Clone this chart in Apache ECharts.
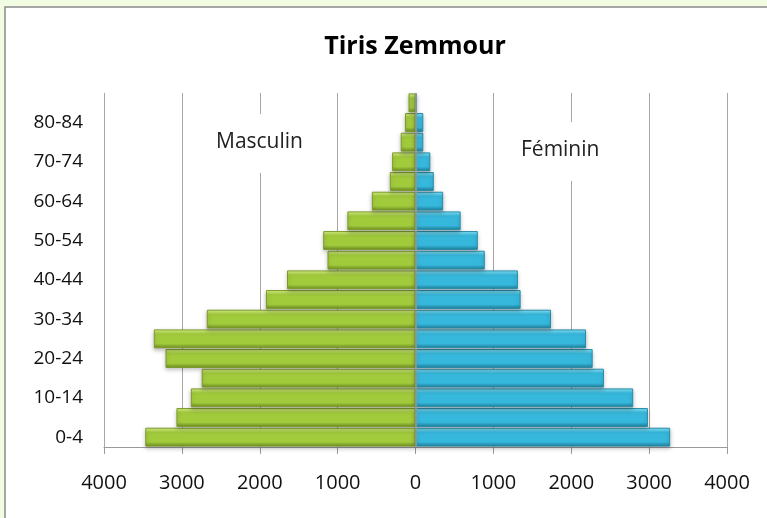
<!DOCTYPE html>
<html>
<head>
<meta charset="utf-8">
<script src="https://cdn.jsdelivr.net/npm/echarts@6/dist/echarts.min.js"></script>
<style>
  html, body { margin: 0; padding: 0; background: #f1fce2; }
  #main { width: 767px; height: 518px; }
</style>
</head>
<body>
<div id="main"></div>
<script>
// tranches d'âge, du bas vers le haut
var ageGroups = ['0-4', '5-9', '10-14', '15-19', '20-24', '25-29', '30-34', '35-39', '40-44',
  '45-49', '50-54', '55-59', '60-64', '65-69', '70-74', '75-79', '80-84', '85+'];
var masculin = [3470, 3070, 2885, 2745, 3210, 3360, 2680, 1920, 1650,
  1130, 1185, 875, 560, 330, 300, 190, 135, 90];
var feminin = [3270, 2985, 2795, 2420, 2275, 2190, 1740, 1350, 1315,
  890, 800, 580, 355, 235, 190, 100, 100, 20];
var xTicks = [-4000, 4000, 1000]; // min, max, interval

var myChart = echarts.init(document.getElementById('main'));
var font = '"Open Sans", sans-serif';

function bevel (light, mid, dark)
{
    return new echarts.graphic.LinearGradient(0, 0, 0, 1, [
        { offset: 0, color: light },
        { offset: 0.25, color: mid },
        { offset: 0.75, color: mid },
        { offset: 1, color: dark }
    ]);
}

var option = {
    backgroundColor: '#f1fce2',
    animation: false,
    title: {
        text: 'Tiris Zemmour',
        left: 410,
        textAlign: 'center',
        top: 29,
        textStyle: { fontFamily: font, fontSize: 25, fontWeight: 'bold', color: '#000' }
    },
    graphic: [
        {
            type: 'rect', z: -10, silent: true,
            shape: { x: 5, y: 7, width: 800, height: 560 },
            style: { fill: '#fff', stroke: '#8a8a8a', lineWidth: 1.5 }
        },
        {
            type: 'text', z: 10, left: 212, top: 114,
            style: {
                text: 'Masculin', fontFamily: font, fontSize: 21, fill: '#222',
                backgroundColor: '#fff', padding: [18, 4, 20, 4]
            }
        },
        {
            type: 'text', z: 10, left: 517, top: 122,
            style: {
                text: 'Féminin', fontFamily: font, fontSize: 21, fill: '#222',
                backgroundColor: '#fff', padding: [18, 4, 20, 4]
            }
        }
    ],
    grid: { left: 104, right: 40, top: 93, bottom: 71 },
    xAxis: {
        type: 'value',
        min: xTicks[0],
        max: xTicks[1],
        interval: xTicks[2],
        axisLine: { show: true, lineStyle: { color: '#9a9a9a' } },
        axisTick: { show: true, length: 7, lineStyle: { color: '#9a9a9a' } },
        axisLabel: {
            margin: 26,
            fontFamily: font, fontSize: 20, color: '#111',
            formatter: function (v) { return Math.abs(v); }
        },
        splitLine: { show: true, lineStyle: { color: '#a6a6a6', width: 1 } }
    },
    yAxis: {
        type: 'category',
        data: ageGroups,
        axisLine: { show: false },
        axisTick: { show: false },
        axisLabel: { interval: 1, margin: 21, fontFamily: font, fontSize: 19, color: '#111' }
    },
    series: [
        {
            name: 'Masculin',
            type: 'bar',
            stack: 'pop',
            barCategoryGap: '4%',
            data: masculin.map(function (v) { return -v; }),
            itemStyle: {
                color: bevel('#dcf88a', '#a2cb3c', '#6a8a20'),
                borderColor: '#7c9a2c', borderWidth: 1,
                shadowColor: 'rgba(0,0,0,0.25)', shadowBlur: 4, shadowOffsetY: 2
            },
            markLine: {
                silent: true, symbol: 'none', label: { show: false },
                lineStyle: { color: '#9a9a9a', type: 'solid', width: 1.5 },
                data: [{ xAxis: 0 }]
            }
        },
        {
            name: 'Féminin',
            type: 'bar',
            stack: 'pop',
            barCategoryGap: '4%',
            data: feminin,
            itemStyle: {
                color: bevel('#8aeaff', '#36b8dc', '#1c7a96'),
                borderColor: '#2a8aa6', borderWidth: 1,
                shadowColor: 'rgba(0,0,0,0.25)', shadowBlur: 4, shadowOffsetY: 2
            }
        }
    ]
};
myChart.setOption(option);
</script>
</body>
</html>
